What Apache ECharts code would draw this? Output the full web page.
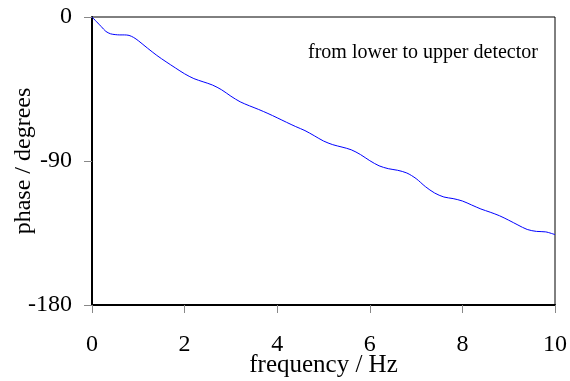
<!DOCTYPE html>
<html>
<head>
<meta charset="utf-8">
<script src="https://cdn.jsdelivr.net/npm/echarts@6/dist/echarts.min.js"></script>
<style>html,body{margin:0;padding:0;background:#fff}#c{width:570px;height:381px}</style>
</head>
<body>
<div id="c"></div>
<script>
const freq = [0,0.1,0.2,0.3,0.4,0.5,0.6,0.7,0.8,0.9,1.0,1.2,1.4,1.6,1.8,2.0,2.2,2.4,2.6,2.8,3.0,3.2,3.4,3.6,3.8,4.0,4.2,4.4,4.6,4.8,5.0,5.2,5.4,5.6,5.8,6.0,6.2,6.4,6.6,6.8,7.0,7.2,7.4,7.6,7.8,8.0,8.2,8.4,8.6,8.8,9.0,9.2,9.4,9.6,9.8,10.0];
const phase = [0,-3,-6,-9,-10.5,-11,-11.2,-11.2,-11.5,-12.8,-14.8,-19.5,-24,-28,-31.8,-35.5,-38.5,-40.5,-42.5,-45.5,-49.5,-53,-55.5,-57.8,-60.3,-63,-65.8,-68.5,-71,-74.2,-77.5,-79.8,-81.3,-83,-86,-89.8,-93,-94.8,-95.8,-97.5,-101,-106,-110,-112.5,-113.5,-115,-117.5,-120,-122,-124.2,-127,-130,-132.8,-134,-134.3,-136];
const xTicks = [0,2,4,6,8,10];
const yTicks = [-180,-90,0];
const annotation = 'from lower to upper detector';

const font = 'Liberation Serif';
const chart = echarts.init(document.getElementById('c'), null, {renderer:'canvas'});
chart.setOption({
  animation:false,
  grid:{left:92,right:15,top:17,bottom:76,containLabel:false,outerBoundsMode:'none',show:true,borderColor:'#000',borderWidth:1,backgroundColor:'transparent'},
  xAxis:{type:'value',min:xTicks[0],max:xTicks[xTicks.length-1],interval:2,
    name:'frequency / Hz',nameLocation:'middle',nameGap:48,nameMoveOverlap:false,
    nameTextStyle:{fontFamily:font,fontSize:25,color:'#000'},
    axisLine:{show:true,onZero:false,lineStyle:{color:'#000',width:2}},
    axisTick:{show:true,inside:false,length:8,lineStyle:{color:'#888',width:1}},
    axisLabel:{margin:28,fontFamily:font,fontSize:24,color:'#000'},
    splitLine:{show:false}},
  yAxis:{type:'value',min:yTicks[0],max:yTicks[yTicks.length-1],interval:90,
    name:'phase / degrees',nameLocation:'middle',nameGap:56,nameMoveOverlap:false,
    nameTextStyle:{fontFamily:font,fontSize:24,color:'#000'},
    axisLine:{show:true,onZero:false,lineStyle:{color:'#000',width:2}},
    axisTick:{show:true,inside:false,length:8,lineStyle:{color:'#888',width:1}},
    axisLabel:{margin:20,fontFamily:font,fontSize:24,color:'#000'},
    splitLine:{show:false}},
  graphic:[{type:'text',left:308,top:43,style:{text:annotation,font:'20px "Liberation Serif"',fill:'#000'}}],
  series:[{type:'line',data:freq.map((f,i)=>[f,phase[i]]),smooth:0.3,showSymbol:false,
    lineStyle:{color:'#0000ff',width:1}}]
});
</script>
</body>
</html>
